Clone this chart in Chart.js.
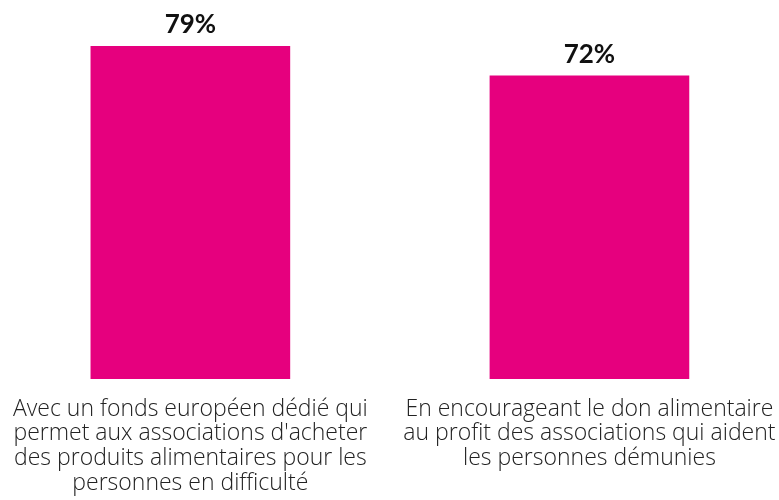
<!DOCTYPE html>
<html>
<head>
<meta charset="utf-8">
<script src="https://cdn.jsdelivr.net/npm/chart.js@4/dist/chart.umd.min.js"></script>
<style>
  html, body { margin: 0; padding: 0; background: #fff; }
  #wrap { width: 779px; height: 500px; }
</style>
</head>
<body>
<div id="wrap"><canvas id="chart"></canvas></div>
<script>
// categories (split in lines like the original)
const categories = [
  ['Avec un fonds européen dédié qui', "permet aux associations d'acheter", 'des produits alimentaires pour les', 'personnes en difficulté'],
  ['En encourageant le don alimentaire', 'au profit des associations qui aident', 'les personnes démunies']
];
// share of answers, in %
const values = [79, 72];

const BAR_COLOR = '#E6007E';

// draws "79%" above each bar
const valueLabels = {
  id: 'valueLabels',
  afterDatasetsDraw(chart) {
    const ctx = chart.ctx;
    const meta = chart.getDatasetMeta(0);
    ctx.save();
    ctx.font = 'bold 26px Lato';
    ctx.fillStyle = '#111';
    ctx.textAlign = 'center';
    ctx.textBaseline = 'alphabetic';
    meta.data.forEach((bar, i) => {
      ctx.fillText(values[i] + '%', bar.x, bar.y - 13);
    });
    ctx.restore();
  }
};

new Chart(document.getElementById('chart'), {
  type: 'bar',
  data: {
    datasets: [{
      data: values.map((v, i) => ({ x: i, y: v })),
      backgroundColor: BAR_COLOR,
      borderWidth: 0,
      barThickness: 199
    }]
  },
  options: {
    responsive: true,
    maintainAspectRatio: false,
    animation: false,
    layout: { padding: 0 },
    plugins: {
      legend: { display: false },
      tooltip: { enabled: false }
    },
    scales: {
      y: {
        display: false,
        min: 0,
        max: 90
      },
      x: {
        type: 'linear',
        offset: false,
        min: -0.477,
        max: 1.475,
        border: { display: false },
        grid: { display: false, drawTicks: false, offset: false },
        afterBuildTicks: axis => {
          axis.ticks = categories.map((c, i) => ({ value: i }));
        },
        afterFit: axis => {
          // fixed label band, and no side padding for the long labels
          axis.height = 121;
          axis.paddingLeft = 0;
          axis.paddingRight = 0;
        },
        ticks: {
          color: '#222',
          font: { family: 'Open Sans', size: 23, weight: 300, lineHeight: 1.07 },
          padding: 18,
          maxRotation: 0,
          autoSkip: false,
          callback: v => categories[v]
        }
      }
    }
  },
  plugins: [valueLabels]
});
</script>
</body>
</html>
